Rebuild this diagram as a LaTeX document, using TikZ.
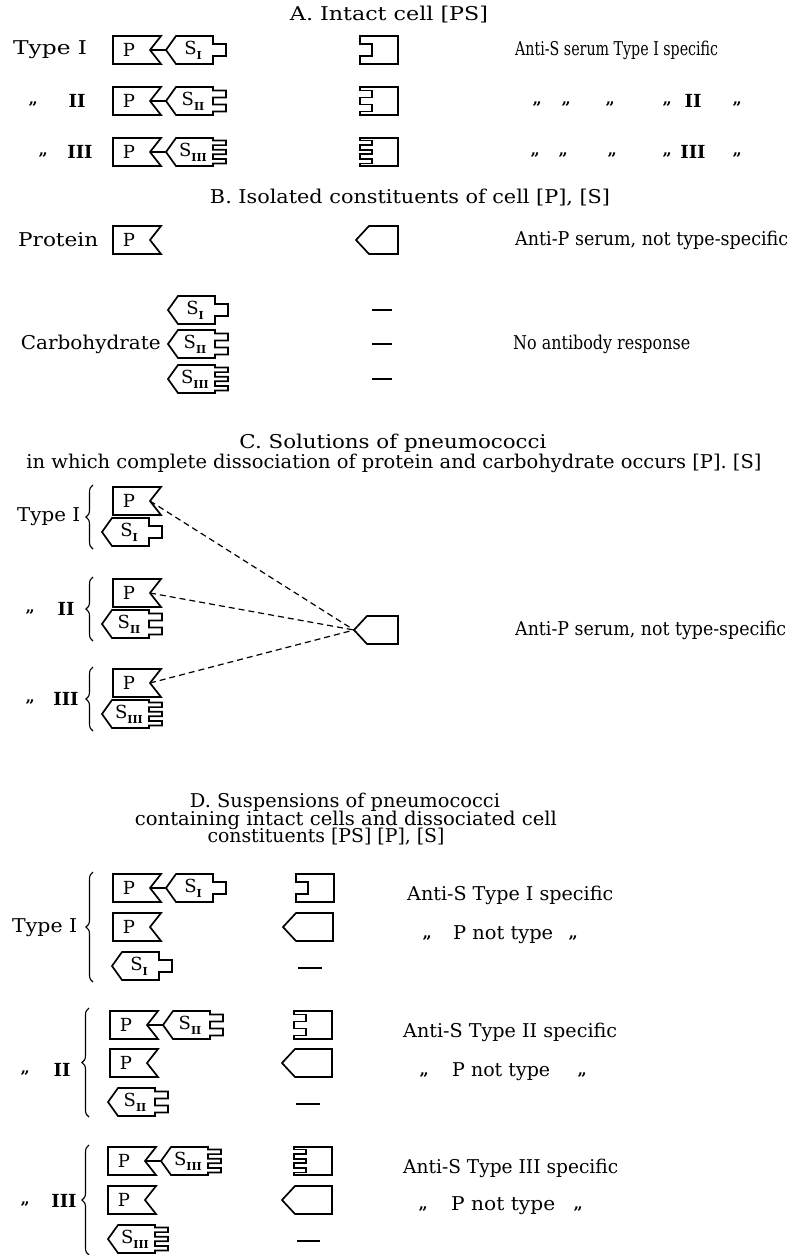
\documentclass[tikz,border=0pt]{standalone}
\usepackage{fontspec}
\setmainfont{DejaVu Serif}
\usepackage{graphicx}
\usetikzlibrary{decorations.pathreplacing}

% text squeezed or stretched to a given width, natural height kept
\newcommand\fitw[2]{\resizebox{#1pt}{\height}{#2}}
% roman type numeral written as a subscript of S
\newcommand\romsub[1]{\raisebox{-0.5ex}{\fontsize{11}{11}\selectfont\bfseries #1}}
% tab positions (top/bottom) on the carbohydrate and in the antibody slots
\def\tabsI{-6/6}
\def\tabsII{-10.5/-3.5,3.5/10.5}
\def\tabsIII{-11.5/-6.9,-2.3/2.3,6.9/11.5}

\tikzset{
  outline/.style={draw=black, line width=1.7pt, line join=miter},
  bondline/.style={draw=black, line width=1.4pt},
  dashlink/.style={draw=black, line width=1.2pt, dash pattern=on 6pt off 4pt},
  bracket/.style={draw=black, line width=1.1pt, decorate, decoration={brace, amplitude=7pt}},
  nilmark/.style={draw=black, line width=1.7pt},
  innertext/.style={inner sep=0pt, font=\fontsize{18}{18}\selectfont},
  headtext/.style={inner sep=0pt, anchor=center, font=\fontsize{19}{19}\selectfont},
  labeltext/.style={inner sep=0pt, anchor=west, font=\fontsize{19}{19}\selectfont},
  desctext/.style={inner sep=0pt, anchor=west, font=\fontsize{19}{19}\selectfont},
  romtext/.style={inner sep=0pt, anchor=center, font=\fontsize{18}{18}\selectfont\bfseries},
  dittomark/.style={inner sep=0pt, anchor=north, yshift=-1pt, font=\fontsize{16}{16}\selectfont\bfseries},
  % protein: box with a V notch on its right side
  pics/pbox/.style={code={
    \draw[outline] (0,-14) -- (48,-14) -- (37,0) -- (48,14) -- (0,14) -- cycle;
    \node[innertext] (-txt) at (16,0) {P};
    \coordinate (-notch) at (37,0);
  }},
  % carbohydrate: pointed on the left, type tabs on the right
  pics/sbox/.style 2 args={code={
    \draw[outline] (0,0) -- (10,-14) -- (47,-14)
      \foreach \a/\b in #2 { -- (47,\a) -- (60,\a) -- (60,\b) -- (47,\b) }
      -- (47,14) -- (10,14) -- cycle;
    \node[innertext] (-txt) at (27,0) {S\romsub{#1}};
    \coordinate (-tip) at (0,0);
  }},
  % anti-S antibody: box with type slots on its left side
  pics/abody/.style={code={
    \draw[outline] (38,-14) -- (0,-14)
      \foreach \a/\b in #1 { -- (0,\a) -- (12,\a) -- (12,\b) -- (0,\b) }
      -- (0,14) -- (38,14) -- cycle;
    \coordinate (-slot) at (0,0);
  }},
  % anti-P antibody: box with a point on its left side (argument: full width)
  pics/pabody/.style={code={
    \draw[outline] (0,0) -- (13,-14) -- (#1,-14) -- (#1,14) -- (13,14) -- cycle;
    \coordinate (-tip) at (0,0);
  }},
  pics/pabody/.default=48,
}

\begin{document}
\begin{tikzpicture}[x=1pt,y=-1pt]
\fill[white] (0,0) rectangle (797,1255);
\useasboundingbox (0,0) rectangle (797,1255);

% ---------------- A. Intact cell ----------------
\node[headtext] (tA) at (389,15) {\fitw{198}{A. Intact cell [PS]}};

\node[labeltext] (la1) at (13,50) {\fitw{74}{Type I}};
\node[dittomark] (la2q) at (33,101) {"};
\node[romtext] (la2r) at (77,101) {II};
\node[dittomark] (la3q) at (43,152) {"};
\node[romtext] (la3r) at (80,152) {III};

\pic (a1p) at (113,50) {pbox};
\pic (a1s) at (166,50) {sbox={I}{\tabsI}};
\draw[bondline] (a1p-notch) -- (a1s-tip);
\pic (a2p) at (113,101) {pbox};
\pic (a2s) at (166,101) {sbox={II}{\tabsII}};
\draw[bondline] (a2p-notch) -- (a2s-tip);
\pic (a3p) at (113,152) {pbox};
\pic (a3s) at (166,152) {sbox={III}{\tabsIII}};
\draw[bondline] (a3p-notch) -- (a3s-tip);

\pic (a1b) at (360,50) {abody=\tabsI};
\pic (a2b) at (360,101) {abody=\tabsII};
\pic (a3b) at (360,152) {abody=\tabsIII};

\node[desctext] (da1) at (515,50) {\fitw{203}{Anti-S serum Type I specific}};
\foreach \x [count=\i] in {537,566,610,667,737} {\node[dittomark] (da2q\i) at (\x,101) {"};}
\node[romtext] (da2r) at (693,101) {II};
\foreach \x [count=\i] in {535,563,612,667,737} {\node[dittomark] (da3q\i) at (\x,152) {"};}
\node[romtext] (da3r) at (693,152) {III};

% ---------------- B. Isolated constituents ----------------
\node[headtext] (tB) at (410,198) {\fitw{400}{B. Isolated constituents of cell [P], [S]}};

\node[labeltext] (lprot) at (18,240) {\fitw{80}{Protein}};
\pic (bp) at (113,240) {pbox};
\pic (bpa) at (356,240) {pabody=42};
\node[desctext] (dbp) at (515,240) {\fitw{273}{Anti-P serum, not type-specific}};

\pic (bs1) at (168,310) {sbox={I}{\tabsI}};
\pic (bs2) at (168,344) {sbox={II}{\tabsII}};
\pic (bs3) at (168,379) {sbox={III}{\tabsIII}};
\node[labeltext, anchor=east] (lcarb) at (161,344) {\fitw{140}{Carbohydrate}};
\draw[nilmark] (372,310) -- (392,310);
\draw[nilmark] (372,344) -- (392,344);
\draw[nilmark] (372,379) -- (392,379);
\node[desctext] (dbs) at (513,344) {\fitw{177}{No antibody response}};

% ---------------- C. Solutions ----------------
\node[headtext] (tC1) at (393,443) {\fitw{307}{C. Solutions of pneumococci}};
\node[headtext] (tC2) at (394,463) {\fitw{735}{in which complete dissociation of protein and carbohydrate occurs [P]. [S]}};

\node[labeltext] (lc1) at (17,517) {\fitw{63}{Type I}};
\node[dittomark] (lc2q) at (30,609) {"};
\node[romtext] (lc2r) at (66,609) {II};
\node[dittomark] (lc3q) at (30,699) {"};
\node[romtext] (lc3r) at (66,699) {III};

\draw[bracket] (93,549) -- (93,485);
\draw[bracket] (93,641) -- (93,577);
\draw[bracket] (93,731) -- (93,667);

\pic (c1p) at (113,501) {pbox};
\pic (c1s) at (102,532) {sbox={I}{\tabsI}};
\pic (c2p) at (113,593) {pbox};
\pic (c2s) at (102,624) {sbox={II}{\tabsII}};
\pic (c3p) at (113,683) {pbox};
\pic (c3s) at (102,714) {sbox={III}{\tabsIII}};

\pic (cab) at (354,630) {pabody=44};
\draw[dashlink] (c1p-notch) -- (cab-tip);
\draw[dashlink] (c2p-notch) -- (cab-tip);
\draw[dashlink] (c3p-notch) -- (cab-tip);
\node[desctext] (dc) at (515,630) {\fitw{271}{Anti-P serum, not type-specific}};

% ---------------- D. Suspensions ----------------
\node[headtext] (tD1) at (345,802) {\fitw{310}{D. Suspensions of pneumococci}};
\node[headtext] (tD2) at (346,820) {\fitw{422}{containing intact cells and dissociated cell}};
\node[headtext] (tD3) at (326,837) {\fitw{237}{constituents [PS] [P], [S]}};

% type I
\node[labeltext] (ld1) at (12,928) {\fitw{65}{Type I}};
\draw[bracket] (93,982) -- (93,872);
\pic (d1p) at (113,888) {pbox};
\pic (d1s) at (166,888) {sbox={I}{\tabsI}};
\draw[bondline] (d1p-notch) -- (d1s-tip);
\pic (d1pp) at (113,927) {pbox};
\pic (d1ss) at (112,966) {sbox={I}{\tabsI}};
\pic (d1b) at (296,888) {abody=\tabsI};
\pic (d1pa) at (283,927) {pabody=50};
\draw[nilmark] (298,968) -- (322,968);
\node[desctext] (dd1) at (407,895) {\fitw{206}{Anti-S Type I specific}};
\node[dittomark] (dd1q1) at (427,935) {"};
\node[desctext] (dd1t) at (453,935) {\fitw{100}{P not type}};
\node[dittomark] (dd1q2) at (573,935) {"};

% type II
\node[dittomark] (ld2q) at (25,1070) {"};
\node[romtext] (ld2r) at (62,1070) {II};
\draw[bracket] (89,1117) -- (89,1008);
\pic (d2p) at (110,1025) {pbox};
\pic (d2s) at (163,1025) {sbox={II}{\tabsII}};
\draw[bondline] (d2p-notch) -- (d2s-tip);
\pic (d2pp) at (110,1063) {pbox};
\pic (d2ss) at (108,1102) {sbox={II}{\tabsII}};
\pic (d2b) at (294,1025) {abody=\tabsII};
\pic (d2pa) at (282,1063) {pabody=50};
\draw[nilmark] (296,1104) -- (320,1104);
\node[desctext] (dd2) at (403,1032) {\fitw{214}{Anti-S Type II specific}};
\node[dittomark] (dd2q1) at (424,1072) {"};
\node[desctext] (dd2t) at (452,1072) {\fitw{98}{P not type}};
\node[dittomark] (dd2q2) at (582,1072) {"};

% type III
\node[dittomark] (ld3q) at (25,1201) {"};
\node[romtext] (ld3r) at (64,1201) {III};
\draw[bracket] (89,1255) -- (89,1145);
\pic (d3p) at (108,1161) {pbox};
\pic (d3s) at (161,1161) {sbox={III}{\tabsIII}};
\draw[bondline] (d3p-notch) -- (d3s-tip);
\pic (d3pp) at (108,1200) {pbox};
\pic (d3ss) at (108,1239) {sbox={III}{\tabsIII}};
\pic (d3b) at (294,1161) {abody=\tabsIII};
\pic (d3pa) at (282,1200) {pabody=50};
\draw[nilmark] (297,1241) -- (320,1241);
\node[desctext] (dd3) at (403,1168) {\fitw{215}{Anti-S Type III specific}};
\node[dittomark] (dd3q1) at (423,1206) {"};
\node[desctext] (dd3t) at (451,1206) {\fitw{104}{P not type}};
\node[dittomark] (dd3q2) at (578,1206) {"};
\end{tikzpicture}
\end{document}
